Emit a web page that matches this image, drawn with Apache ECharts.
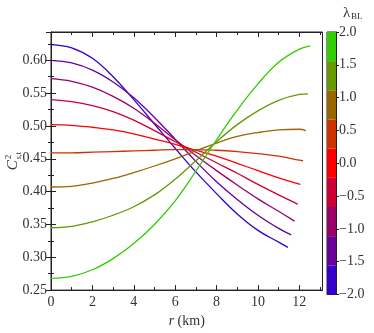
<!DOCTYPE html>
<html>
<head>
<meta charset="utf-8">
<script src="https://cdn.jsdelivr.net/npm/echarts@6/dist/echarts.min.js"></script>
<style>
  html, body { margin: 0; padding: 0; background: #fff; }
  #chart { width: 374px; height: 333px; }
</style>
</head>
<body>
<div id="chart"></div>
<script>
// lambda_BL levels and colour of each level (also the colorbar pieces)
var lambdas = [-2, -1.5, -1, -0.5, 0, 0.5, 1, 1.5, 2];
var colors = ['#3300cc', '#660099', '#990066', '#cc0033', '#ff0000', '#cc3300', '#996600', '#669900', '#33cc00'];
var cbarTicks = ['-2.0', '-1.5', '-1.0', '-0.5', '0.0', '0.5', '1.0', '1.5', '2.0'];

// radii (km), one list per curve
var rBlue    = [0, 1, 2, 3, 4, 5, 6, 7, 8, 9, 10, 11, 11.45];
var rPurple  = [0, 1, 2, 3, 4, 5, 6, 7, 8, 9, 10, 11, 11.61];
var rMagenta = [0, 1, 2, 3, 4, 5, 6, 7, 8, 9, 10, 11, 11.77];
var rCrimson = [0, 1, 2, 3, 4, 5, 6, 7, 8, 9, 10, 11, 11.92];
var rRed     = [0, 1, 2, 3, 4, 5, 6, 7, 8, 9, 10, 11, 12.05];
var rOrange  = [0, 1, 2, 3, 4, 5, 6, 7, 8, 9, 10, 11, 12, 12.18];
var rBrown   = [0, 1, 2, 3, 4, 5, 6, 7, 8, 9, 10, 11, 12, 12.32];
var rOlive   = [0, 1, 2, 3, 4, 5, 6, 7, 8, 9, 10, 11, 12, 12.42];
var rGreen   = [0, 1, 2, 3, 4, 5, 6, 7, 8, 9, 10, 11, 12, 12.53];

// C^2_s,t values
var cBlue    = [0.624, 0.619, 0.603, 0.575, 0.540, 0.503, 0.466, 0.430, 0.397, 0.366, 0.341, 0.323, 0.315];
var cPurple  = [0.600, 0.596, 0.585, 0.567, 0.543, 0.513, 0.480, 0.446, 0.415, 0.388, 0.364, 0.344, 0.334];
var cMagenta = [0.572, 0.568, 0.559, 0.545, 0.527, 0.504, 0.479, 0.455, 0.432, 0.410, 0.389, 0.370, 0.355];
var cCrimson = [0.540, 0.537, 0.531, 0.522, 0.509, 0.493, 0.476, 0.460, 0.444, 0.428, 0.411, 0.395, 0.381];
var cRed     = [0.502, 0.501, 0.498, 0.494, 0.488, 0.480, 0.472, 0.463, 0.454, 0.443, 0.432, 0.421, 0.411];
var cOrange  = [0.459, 0.459, 0.460, 0.461, 0.462, 0.463, 0.464, 0.464, 0.463, 0.461, 0.458, 0.454, 0.448, 0.447];
var cBrown   = [0.407, 0.408, 0.413, 0.420, 0.429, 0.439, 0.450, 0.462, 0.474, 0.484, 0.490, 0.494, 0.495, 0.493];
var cOlive   = [0.345, 0.347, 0.354, 0.364, 0.377, 0.395, 0.419, 0.447, 0.476, 0.502, 0.523, 0.539, 0.548, 0.549];
var cGreen   = [0.268, 0.271, 0.281, 0.298, 0.321, 0.350, 0.386, 0.431, 0.479, 0.524, 0.564, 0.597, 0.617, 0.622];

var curvesR = [rBlue, rPurple, rMagenta, rCrimson, rRed, rOrange, rBrown, rOlive, rGreen];
var curvesC = [cBlue, cPurple, cMagenta, cCrimson, cRed, cOrange, cBrown, cOlive, cGreen];

var FONT = 'Liberation Serif';
var TXT = '#333';

var chart = echarts.init(document.getElementById('chart'), null, { renderer: 'canvas' });

function zip(xs, ys) {
  return xs.map(function (x, i) { return [x, ys[i]]; });
}

var series = curvesR.map(function (rs, i) {
  return {
    type: 'line',
    xAxisIndex: 0,
    yAxisIndex: 0,
    data: zip(rs, curvesC[i]),
    smooth: 0.4,
    showSymbol: false,
    silent: true,
    lineStyle: { color: colors[i], width: 1.3 },
    z: 3
  };
});

// colorbar: one stacked piece per lambda level
lambdas.forEach(function (l, i) {
  series.push({
    type: 'bar',
    xAxisIndex: 2,
    yAxisIndex: 2,
    stack: 'cbar',
    barWidth: '100%',
    data: [1],
    silent: true,
    itemStyle: { color: colors[i] }
  });
});

var mainTick = { show: true, inside: true, length: 5, lineStyle: { color: '#222', width: 1 } };
var mainMinor = { show: true, splitNumber: 2, length: 3, lineStyle: { color: '#222', width: 1 } };

var option = {
  animation: false,
  backgroundColor: '#fff',
  grid: [
    { left: 51, top: 32, width: 271.5, height: 261.7, show: true, borderColor: '#222', borderWidth: 1, backgroundColor: 'transparent' },
    { left: 327, top: 32, width: 9, height: 262.5, show: true, borderColor: '#222', borderWidth: 1, backgroundColor: 'transparent' }
  ],
  xAxis: [
    {
      type: 'value', gridIndex: 0, min: 0, max: 13.12, interval: 2,
      position: 'bottom',
      axisLine: { show: true, lineStyle: { color: '#222' } },
      axisTick: mainTick,
      minorTick: mainMinor,
      splitLine: { show: false },
      axisLabel: { color: TXT, fontFamily: FONT, fontSize: 14, margin: 5, showMaxLabel: false },
      name: '{i|r} (km)',
      nameLocation: 'middle',
      nameGap: 22,
      nameTextStyle: { color: TXT, fontFamily: FONT, fontSize: 14, rich: { i: { fontStyle: 'italic', fontFamily: FONT, fontSize: 14, color: TXT } } }
    },
    {
      type: 'value', gridIndex: 0, min: 0, max: 13.12, interval: 2,
      position: 'top',
      axisLine: { show: true, lineStyle: { color: '#222' } },
      axisTick: mainTick,
      minorTick: mainMinor,
      splitLine: { show: false },
      axisLabel: { show: false }
    },
    {
      type: 'category', gridIndex: 1, data: ['c'],
      axisLine: { show: false }, axisTick: { show: false }, axisLabel: { show: false }
    }
  ],
  yAxis: [
    {
      type: 'value', gridIndex: 0, min: 0.25, max: 0.6431, interval: 0.05,
      position: 'left',
      axisLine: { show: true, lineStyle: { color: '#222' } },
      axisTick: mainTick,
      minorTick: mainMinor,
      splitLine: { show: false },
      axisLabel: {
        color: TXT, fontFamily: FONT, fontSize: 14, margin: 4, showMaxLabel: false,
        formatter: function (v) { return v.toFixed(2); }
      }
    },
    {
      type: 'value', gridIndex: 0, min: 0.25, max: 0.6431, interval: 0.05,
      position: 'right',
      axisLine: { show: true, lineStyle: { color: '#222' } },
      axisTick: mainTick,
      minorTick: mainMinor,
      splitLine: { show: false },
      axisLabel: { show: false }
    },
    {
      type: 'value', gridIndex: 1, min: 0, max: lambdas.length,
      show: false
    },
    {
      type: 'value', gridIndex: 1, min: -2, max: 2, interval: 0.5,
      position: 'right',
      axisLine: { show: true, lineStyle: { color: '#222' } },
      axisTick: { show: true, inside: false, length: 3, lineStyle: { color: '#222' } },
      splitLine: { show: false },
      axisLabel: {
        color: TXT, fontFamily: FONT, fontSize: 14, margin: 3,
        formatter: function (v) {
          var s = cbarTicks[Math.round((v + 2) / 0.5)];
          return s ? s.replace('-', '\u2212') : '';
        }
      }
    }
  ],
  graphic: [
    {
      // y axis title, rotated to read bottom to top
      type: 'group',
      left: 4, top: 152,
      rotation: Math.PI / 2,
      children: [
        { type: 'text', x: 0, y: 2, style: { text: 'C', font: 'italic 15px "' + FONT + '"', fill: TXT } },
        { type: 'text', x: 11, y: 0, style: { text: '2', font: '9px "' + FONT + '"', fill: TXT } },
        { type: 'text', x: 11, y: 11, style: { text: 's,t', font: '8px "' + FONT + '"', fill: TXT } }
      ]
    },
    { type: 'text', left: 343, top: 6, style: { text: '\u03bb', font: '15px "' + FONT + '"', fill: TXT } },
    { type: 'text', left: 351, top: 12, style: { text: 'BL', font: '9px "' + FONT + '"', fill: TXT } }
  ],
  series: series
};

chart.setOption(option);
</script>
</body>
</html>
